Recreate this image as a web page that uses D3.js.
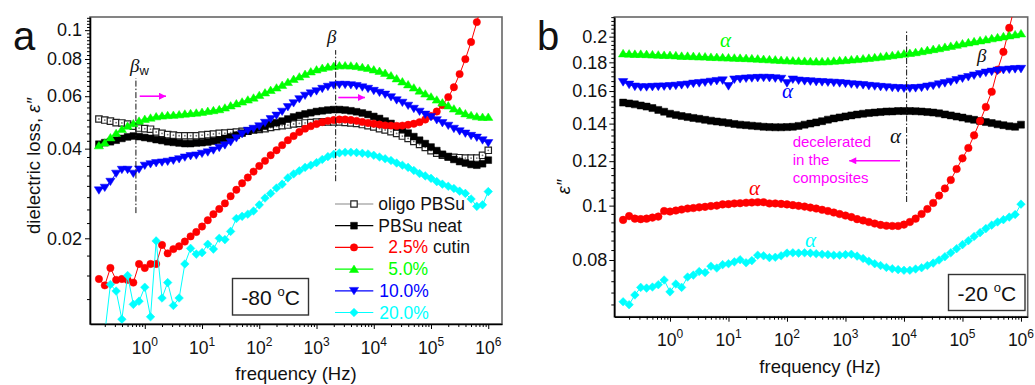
<!DOCTYPE html>
<html>
<head>
<meta charset="utf-8">
<script src="https://cdn.jsdelivr.net/npm/d3@7"></script>
<style>
  body { margin: 0; background: #fff; }
  svg { font-family: "Liberation Sans", Arial, sans-serif; }
</style>
</head>
<body>
<svg id="chart" width="1035" height="385"></svg>
<script>
// frequency sweep (Hz), shared by all curves
const freq = [0.158, 0.2, 0.251, 0.316, 0.398, 0.501, 0.631, 0.794,
  1, 1.26, 1.58, 2, 2.51, 3.16, 3.98, 5.01, 6.31, 7.94,
  10, 12.6, 15.8, 20, 25.1, 31.6, 39.8, 50.1, 63.1, 79.4,
  100, 126, 158, 200, 251, 316, 398, 501, 631, 794,
  1e3, 1.26e3, 1.58e3, 2e3, 2.51e3, 3.16e3, 3.98e3, 5.01e3, 6.31e3, 7.94e3,
  1e4, 1.26e4, 1.58e4, 2e4, 2.51e4, 3.16e4, 3.98e4, 5.01e4, 6.31e4, 7.94e4,
  1e5, 1.26e5, 1.58e5, 2e5, 2.51e5, 3.16e5, 3.98e5, 5.01e5, 6.31e5, 7.94e5, 1e6];

const xTicks = [1, 10, 100, 1e3, 1e4, 1e5, 1e6];
const leftTicks = [0.02, 0.04, 0.06, 0.08, 0.1];
const rightTicks = [0.08, 0.1, 0.12, 0.14, 0.16, 0.18, 0.2];

// panel a, -80 C
const aOligo = [0.0503,0.0499,0.0495,0.0489,0.0488,0.0484,0.0476,0.0469,0.0467,0.0465,
  0.0455,0.0450,0.0446,0.0444,0.0442,0.0442,0.0442,0.0442,0.0444,0.0446,
  0.0448,0.0450,0.0451,0.0453,0.0455,0.0457,0.0458,0.0462,0.0464,0.0467,
  0.0471,0.0475,0.0478,0.0480,0.0484,0.0486,0.0488,0.0489,0.0491,0.0492,
  0.0492,0.0492,0.0492,0.0490,0.0488,0.0486,0.0482,0.0478,0.0473,0.0467,
  0.0462,0.0456,0.0450,0.0441,0.0433,0.0423,0.0413,0.0404,0.0394,0.0386,
  0.0380,0.0376,0.0374,0.0373,0.0372,0.0372,0.0372,0.0380,0.0395];
const aNeat = [0.0414,0.0419,0.0422,0.0427,0.0433,0.0438,0.0441,0.0439,0.0436,0.0433,
  0.0429,0.0426,0.0422,0.0420,0.0418,0.0416,0.0416,0.0418,0.0419,0.0421,
  0.0424,0.0427,0.0433,0.0438,0.0444,0.0451,0.0458,0.0464,0.0469,0.0476,
  0.0484,0.0489,0.0495,0.0503,0.0511,0.0517,0.0523,0.0528,0.0533,0.0536,
  0.0539,0.0541,0.0541,0.0539,0.0536,0.0532,0.0527,0.0521,0.0513,0.0505,
  0.0495,0.0486,0.0474,0.0464,0.0451,0.0439,0.0427,0.0416,0.0405,0.0394,
  0.0383,0.0375,0.0368,0.0362,0.0358,0.0354,0.0352,0.0356,0.0366];
const aCutin25 = [0.0146,0.0139,0.0159,0.0145,0.0146,0.0145,0.0142,0.0164,0.0159,0.0164,
  0.0164,0.0190,0.0178,0.0184,0.0188,0.0195,0.0203,0.0210,0.0219,0.0230,
  0.0241,0.0251,0.0262,0.0277,0.0291,0.0306,0.0320,0.0335,0.0350,0.0364,
  0.0380,0.0395,0.0411,0.0427,0.0441,0.0455,0.0467,0.0476,0.0484,0.0491,
  0.0496,0.0499,0.0501,0.0501,0.0499,0.0496,0.0492,0.0488,0.0485,0.0482,
  0.0479,0.0478,0.0477,0.0478,0.0481,0.0485,0.0491,0.0501,0.0515,0.0533,
  0.0560,0.0596,0.0643,0.0712,0.0799,0.0912,0.1064,0.125,0.148];
const aCutin50 = [0.0410,0.0419,0.0436,0.0451,0.0465,0.0477,0.0486,0.0496,0.0503,0.0508,
  0.0513,0.0516,0.0518,0.0519,0.0521,0.0524,0.0526,0.0528,0.0531,0.0535,
  0.0538,0.0542,0.0549,0.0558,0.0567,0.0575,0.0584,0.0593,0.0605,0.0617,
  0.0629,0.0641,0.0654,0.0669,0.0685,0.0698,0.0712,0.0726,0.0737,0.0746,
  0.0753,0.0758,0.0761,0.0761,0.0760,0.0757,0.0751,0.0746,0.0737,0.0729,
  0.0718,0.0704,0.0688,0.0672,0.0657,0.0641,0.0626,0.0612,0.0598,0.0584,
  0.0571,0.0558,0.0545,0.0535,0.0525,0.0518,0.0513,0.0511,0.0511];
const aCutin100 = [0.0290,0.0296,0.0310,0.0330,0.0340,0.0340,0.0330,0.0341,0.0351,0.0355,
  0.0358,0.0360,0.0362,0.0365,0.0369,0.0374,0.0378,0.0380,0.0385,0.0389,
  0.0395,0.0403,0.0411,0.0421,0.0434,0.0448,0.0460,0.0467,0.0476,0.0489,
  0.0503,0.0517,0.0533,0.0552,0.0569,0.0587,0.0603,0.0614,0.0624,0.0636,
  0.0646,0.0653,0.0656,0.0656,0.0654,0.0650,0.0643,0.0636,0.0626,0.0617,
  0.0608,0.0596,0.0582,0.0571,0.0558,0.0545,0.0533,0.0521,0.0511,0.0499,
  0.0488,0.0478,0.0467,0.0458,0.0450,0.0442,0.0436,0.0427,0.0418];
const aCutin200 = [0.0091,0.0096,0.0140,0.0133,0.0107,0.0150,0.0120,0.0123,0.0137,0.0109,
  0.0196,0.0126,0.0142,0.0119,0.0126,0.0164,0.0185,0.0177,0.0179,0.0191,
  0.0184,0.0200,0.0198,0.0211,0.0233,0.0237,0.0241,0.0247,0.0259,0.0273,
  0.0283,0.0295,0.0304,0.0319,0.0329,0.0337,0.0346,0.0352,0.0359,0.0368,
  0.0376,0.0383,0.0387,0.0389,0.0389,0.0388,0.0386,0.0384,0.0380,0.0375,
  0.0370,0.0365,0.0358,0.0352,0.0346,0.0338,0.0330,0.0324,0.0318,0.0310,
  0.0304,0.0299,0.0294,0.0288,0.0283,0.0271,0.0256,0.0259,0.0287];

// panel b, -20 C
const bNeat = [0.1526,0.1521,0.1515,0.1508,0.1501,0.1492,0.1481,0.1470,0.1458,0.1451,
  0.1444,0.1438,0.1433,0.1428,0.1422,0.1417,0.1412,0.1408,0.1403,0.1398,
  0.1394,0.1391,0.1388,0.1385,0.1382,0.1380,0.1379,0.1379,0.1380,0.1382,
  0.1387,0.1394,0.1400,0.1407,0.1414,0.1423,0.1430,0.1436,0.1442,0.1448,
  0.1453,0.1458,0.1462,0.1465,0.1468,0.1471,0.1472,0.1474,0.1474,0.1474,
  0.1473,0.1471,0.1468,0.1465,0.1460,0.1454,0.1448,0.1441,0.1435,0.1428,
  0.1422,0.1415,0.1409,0.1403,0.1396,0.1391,0.1385,0.1382,0.1394];
const bCutin25 = [0.0943,0.0958,0.0948,0.0946,0.0948,0.0952,0.0956,0.0978,0.0976,0.0980,
  0.0984,0.0988,0.0990,0.0993,0.0995,0.0998,0.1000,0.1005,0.1006,0.1009,
  0.1010,0.1012,0.1013,0.1014,0.1014,0.1009,0.1009,0.1007,0.1005,0.1002,
  0.0999,0.0996,0.0992,0.0988,0.0983,0.0978,0.0972,0.0966,0.0960,0.0954,
  0.0946,0.0941,0.0935,0.0929,0.0924,0.0921,0.0920,0.0920,0.0925,0.0935,
  0.0948,0.0966,0.0986,0.1011,0.1042,0.1073,0.1111,0.1162,0.1214,0.1267,
  0.1334,0.1415,0.1499,0.1595,0.1746,0.1879,0.2073,0.2279,0.2523];
const bCutin50 = [0.1867,0.1865,0.1863,0.1863,0.1861,0.1859,0.1857,0.1855,0.1854,0.1852,
  0.1848,0.1848,0.1846,0.1844,0.1843,0.1840,0.1839,0.1837,0.1836,0.1834,
  0.1833,0.1831,0.1829,0.1827,0.1824,0.1822,0.1820,0.1817,0.1815,0.1813,
  0.1811,0.1810,0.1808,0.1807,0.1807,0.1808,0.1811,0.1814,0.1817,0.1821,
  0.1824,0.1828,0.1833,0.1837,0.1842,0.1848,0.1853,0.1859,0.1865,0.1870,
  0.1876,0.1884,0.1892,0.1900,0.1907,0.1917,0.1925,0.1934,0.1944,0.1953,
  0.1961,0.1969,0.1977,0.1986,0.1994,0.2002,0.2010,0.2018,0.2026];
const bCutin100 = [0.1660,0.1643,0.1630,0.1626,0.1626,0.1628,0.1630,0.1631,0.1633,0.1636,
  0.1640,0.1644,0.1650,0.1653,0.1658,0.1663,0.1668,0.1672,0.1633,0.1678,
  0.1681,0.1685,0.1687,0.1689,0.1690,0.1689,0.1686,0.1683,0.1653,0.1678,
  0.1671,0.1667,0.1665,0.1662,0.1660,0.1658,0.1656,0.1653,0.1650,0.1646,
  0.1643,0.1640,0.1635,0.1632,0.1628,0.1625,0.1622,0.1620,0.1618,0.1618,
  0.1620,0.1623,0.1630,0.1636,0.1645,0.1653,0.1663,0.1674,0.1685,0.1695,
  0.1706,0.1716,0.1726,0.1733,0.1740,0.1745,0.1748,0.1751,0.1753];
const bCutin200 = [0.0674,0.0666,0.0693,0.0715,0.0713,0.0716,0.0723,0.0737,0.0702,0.0725,
  0.0715,0.0746,0.0752,0.0763,0.0760,0.0780,0.0774,0.0785,0.0788,0.0794,
  0.0801,0.0791,0.0798,0.0816,0.0814,0.0808,0.0809,0.0814,0.0823,0.0824,
  0.0823,0.0824,0.0823,0.0821,0.0819,0.0818,0.0816,0.0816,0.0818,0.0819,
  0.0813,0.0805,0.0796,0.0788,0.0782,0.0776,0.0772,0.0769,0.0767,0.0767,
  0.0771,0.0775,0.0782,0.0790,0.0800,0.0811,0.0824,0.0838,0.0852,0.0866,
  0.0881,0.0895,0.0910,0.0923,0.0935,0.0944,0.0954,0.0964,0.1006];

const legendNames = ['oligo PBSu', 'PBSu neat', '2.5%', '5.0%', '10.0%', '20.0%'];

const GREEN = '#00ff00', BLUE = '#0000ff', RED = '#ff0000', CYAN = '#00ffff', MAG = '#ff00ff';

// marker shapes, size = half width
const shapes = {
  square:  { draw(c, r) { c.rect(-r, -r, 2 * r, 2 * r); } },
  circle:  { draw(c, r) { c.moveTo(r, 0); c.arc(0, 0, r, 0, 2 * Math.PI); } },
  up:      { draw(c, r) { c.moveTo(0, -r); c.lineTo(r * 1.15, r * 0.85); c.lineTo(-r * 1.15, r * 0.85); c.closePath(); } },
  down:    { draw(c, r) { c.moveTo(0, r); c.lineTo(r * 1.15, -r * 0.85); c.lineTo(-r * 1.15, -r * 0.85); c.closePath(); } },
  diamond: { draw(c, r) { c.moveTo(0, -r); c.lineTo(r, 0); c.lineTo(0, r); c.lineTo(-r, 0); c.closePath(); } }
};

const svg = d3.select('#chart');

svg.append('defs').append('marker')
  .attr('id', 'ah').attr('viewBox', '0 0 10 10').attr('refX', 10).attr('refY', 5)
  .attr('markerUnits', 'userSpaceOnUse').attr('markerWidth', 10).attr('markerHeight', 7)
  .attr('orient', 'auto')
  .append('path').attr('d', 'M0,0L10,5L0,10z').attr('fill', MAG);

function panel(cfg) {
  const g = svg.append('g');
  const x = d3.scaleLog().domain(cfg.xd).range([cfg.x0, cfg.x1]);
  const y = d3.scaleLog().domain(cfg.yd).range([cfg.y1, cfg.y0]);

  svg.select('defs').append('clipPath').attr('id', 'clip' + cfg.id)
    .append('rect').attr('x', cfg.x0).attr('y', cfg.y0)
    .attr('width', cfg.x1 - cfg.x0).attr('height', cfg.y1 - cfg.y0);

  g.append('rect').attr('x', cfg.x0).attr('y', cfg.y0)
    .attr('width', cfg.x1 - cfg.x0).attr('height', cfg.y1 - cfg.y0)
    .attr('fill', 'none').attr('stroke', '#666').attr('stroke-width', 1.6);

  const plot = g.append('g').attr('clip-path', `url(#clip${cfg.id})`);
  const line = d3.line().x(d => x(d[0])).y(d => y(d[1]));

  cfg.series.forEach(s => {
    const pts = freq.map((f, i) => [f, s.values[i]]);
    plot.append('path').datum(pts)
      .attr('fill', 'none').attr('stroke', s.line).attr('stroke-width', 1)
      .attr('d', line);
    plot.append('g').selectAll('path').data(pts).join('path')
      .attr('transform', d => `translate(${x(d[0])},${y(d[1])})`)
      .attr('d', d3.symbol(shapes[s.shape], s.r))
      .attr('fill', s.fill).attr('stroke', s.stroke).attr('stroke-width', s.sw);
    if (s.dot) {
      plot.append('g').selectAll('circle').data(pts).join('circle')
        .attr('cx', d => x(d[0])).attr('cy', d => y(d[1])).attr('r', 0.9).attr('fill', '#777');
    }
  });

  // y axis
  const yMinor = d3.range(cfg.minorStart, cfg.yd[1], cfg.minorStep)
    .filter(v => v > cfg.yd[0] && !cfg.yTicks.some(t => Math.abs(t - v) < 1e-6));
  g.append('g').attr('transform', `translate(${cfg.x0},0)`)
    .call(d3.axisLeft(y).tickValues(yMinor).tickSize(3).tickFormat(''))
    .call(a => a.select('.domain').remove());
  const ya = g.append('g').attr('transform', `translate(${cfg.x0},0)`)
    .call(d3.axisLeft(y).tickValues(cfg.yTicks).tickSize(5).tickSizeOuter(0)
      .tickPadding(cfg.pad).tickFormat(d => String(d)));
  ya.attr('font-family', null).attr('font-size', 18);
  ya.selectAll('text').attr('fill', '#111');
  ya.select('.domain').attr('stroke-width', 1.6);

  // x axis
  const xMinor = [];
  for (let e = -1; e <= 6; e++) for (let k = 2; k <= 9; k++) {
    const v = k * Math.pow(10, e);
    if (v > cfg.xd[0] && v < cfg.xd[1]) xMinor.push(v);
  }
  g.append('g').attr('transform', `translate(0,${cfg.y1})`)
    .call(d3.axisBottom(x).tickValues(xMinor).tickSize(3).tickFormat(''))
    .call(a => a.select('.domain').remove());
  const xa = g.append('g').attr('transform', `translate(0,${cfg.y1})`)
    .call(d3.axisBottom(x).tickValues(xTicks).tickSize(5).tickSizeOuter(0).tickFormat(''));
  xa.select('.domain').attr('stroke-width', 1.6);

  const lab = g.append('g').selectAll('text').data(xTicks).join('text')
    .attr('x', d => x(d)).attr('y', cfg.y1 + 29.5)
    .attr('text-anchor', 'middle').attr('font-size', 17.5).attr('fill', '#111');
  lab.append('tspan').text('10');
  lab.append('tspan').attr('font-size', 12).attr('dy', -8)
    .text(d => Math.round(Math.log10(d)));

  // axis titles
  g.append('text').attr('x', cfg.xLabel[0]).attr('y', cfg.xLabel[1])
    .attr('text-anchor', 'middle').attr('font-size', 18.5).attr('fill', '#111')
    .text('frequency (Hz)');

  // temperature box
  g.append('rect').attr('x', cfg.box[0]).attr('y', cfg.box[1])
    .attr('width', cfg.box[2]).attr('height', cfg.box[3])
    .attr('fill', '#fff').attr('stroke', '#333').attr('stroke-width', 1.4);
  const tt = g.append('text').attr('x', cfg.box[0] + cfg.box[2] / 2).attr('y', cfg.box[1] + cfg.box[3] / 2 + 8)
    .attr('text-anchor', 'middle').attr('font-size', 21).attr('fill', '#111');
  tt.append('tspan').text(cfg.temp + ' ');
  tt.append('tspan').attr('font-size', 13).attr('dy', -9).text('o');
  tt.append('tspan').attr('dy', 9).text('C');

  // panel letter
  g.append('text').attr('x', cfg.letter[0]).attr('y', cfg.letter[1])
    .attr('font-size', 40).attr('fill', '#111').text(cfg.id);

  return { g, x, y };
}

const A = panel({
  id: 'a', x0: 90, x1: 502, y0: 17, y1: 324,
  xd: [Math.pow(10, -0.957), Math.pow(10, 6.24)], yd: [0.01031, 0.1107],
  yTicks: leftTicks, minorStart: 0.0125, minorStep: 0.0025, pad: 3,
  xLabel: [296, 380], box: [232.5, 278.5, 76, 36.5], temp: '-80', letter: [13, 50],
  series: [
    { values: aOligo, shape: 'square', r: 3.2, fill: '#fff', stroke: '#222', sw: 1.2, line: '#888', dot: true },
    { values: aNeat, shape: 'square', r: 3.4, fill: '#000', stroke: '#000', sw: 0.5, line: '#000' },
    { values: aCutin25, shape: 'circle', r: 3.7, fill: RED, stroke: RED, sw: 0.5, line: RED },
    { values: aCutin50, shape: 'up', r: 4, fill: GREEN, stroke: GREEN, sw: 0.5, line: GREEN },
    { values: aCutin100, shape: 'down', r: 4, fill: BLUE, stroke: BLUE, sw: 0.5, line: BLUE },
    { values: aCutin200, shape: 'diamond', r: 4.3, fill: CYAN, stroke: CYAN, sw: 0.5, line: CYAN }
  ]
});

const B = panel({
  id: 'b', x0: 614.3, x1: 1027.7, y0: 17, y1: 316.7,
  xd: [Math.pow(10, -0.952), Math.pow(10, 6.115)], yd: [0.0634, 0.2168],
  yTicks: rightTicks, minorStart: 0.02 / 6 * 20, minorStep: 0.02 / 6, pad: 2,
  xLabel: [820, 372.5], box: [948.5, 274.5, 76.5, 36], temp: '-20', letter: [537, 50],
  series: [
    { values: bNeat, shape: 'square', r: 3.5, fill: '#000', stroke: '#000', sw: 0.5, line: '#000' },
    { values: bCutin25, shape: 'circle', r: 3.8, fill: RED, stroke: RED, sw: 0.5, line: RED },
    { values: bCutin50, shape: 'up', r: 4.1, fill: GREEN, stroke: GREEN, sw: 0.5, line: GREEN },
    { values: bCutin100, shape: 'down', r: 4.1, fill: BLUE, stroke: BLUE, sw: 0.5, line: BLUE },
    { values: bCutin200, shape: 'diamond', r: 4.3, fill: CYAN, stroke: CYAN, sw: 0.5, line: CYAN }
  ]
});

// y axis titles
const yt = A.g.append('text').attr('transform', 'translate(40,166) rotate(-90)')
  .attr('text-anchor', 'middle').attr('font-size', 18.5).attr('fill', '#111');
yt.append('tspan').text('dielectric loss, ');
yt.append('tspan').attr('font-style', 'italic').text('\u03b5\u2033');
B.g.append('text').attr('transform', 'translate(570,187) rotate(-90)')
  .attr('text-anchor', 'middle').attr('font-size', 18.5).attr('font-style', 'italic')
  .attr('fill', '#111').text('\u03b5\u2033');

// legend (panel a)
const legColors = ['#888', '#000', RED, GREEN, BLUE, CYAN];
const legShapes = [['square', 3.2, '#fff', '#222', 1.2], ['square', 3.4, '#000', '#000', 0.5],
  ['circle', 3.7, RED, RED, 0.5], ['up', 4, GREEN, GREEN, 0.5],
  ['down', 4, BLUE, BLUE, 0.5], ['diamond', 4.3, CYAN, CYAN, 0.5]];
const legTextX = [378.3, 378.3, 388.3, 388.3, 379.3, 379.3];
legendNames.forEach((name, i) => {
  const cy = 204 + i * 21.7;
  A.g.append('line').attr('x1', 335).attr('x2', 373.3).attr('y1', cy).attr('y2', cy)
    .attr('stroke', legColors[i]).attr('stroke-width', 1.2);
  const sh = legShapes[i];
  A.g.append('path').attr('transform', `translate(354,${cy})`)
    .attr('d', d3.symbol(shapes[sh[0]], sh[1])).attr('fill', sh[2]).attr('stroke', sh[3]).attr('stroke-width', sh[4]);
  const t = A.g.append('text').attr('x', legTextX[i]).attr('y', cy + 6).attr('font-size', 17.5)
    .attr('fill', i < 2 ? '#111' : legColors[i]).text(name);
  if (i === 2) t.append('tspan').attr('fill', '#111').text(' cutin');
});

// dash-dot guide lines
const guides = [
  { p: A, f: 0.70, v: [0.0243, 0.0690] },
  { p: A, f: 2160, v: [0.0311, 0.0857] },
  { p: B, f: 1.11e4, v: [0.1015, 0.2047] }
];
guides.forEach(d => {
  d.p.g.append('line').attr('x1', d.p.x(d.f)).attr('x2', d.p.x(d.f))
    .attr('y1', d.p.y(d.v[0])).attr('y2', d.p.y(d.v[1]))
    .attr('stroke', '#111').attr('stroke-width', 1).attr('stroke-dasharray', '6,2,1.5,2');
});

// magenta arrows
const arrows = [
  { p: A, f: [0.815, 2.35], v: 0.0600 },
  { p: A, f: [2400, 7020], v: 0.0594 },
  { p: B, f: [8550, 1160], v: 0.1202 }
];
arrows.forEach(d => {
  d.p.g.append('line').attr('x1', d.p.x(d.f[0])).attr('x2', d.p.x(d.f[1]))
    .attr('y1', d.p.y(d.v)).attr('y2', d.p.y(d.v))
    .attr('stroke', MAG).attr('stroke-width', 1.6).attr('marker-end', 'url(#ah)');
});

// greek labels
function greek(g, txt, x, y, color, size, sub) {
  const t = g.append('text').attr('x', x).attr('y', y).attr('fill', color)
    .attr('font-family', '"Liberation Serif", "DejaVu Serif", serif')
    .attr('font-style', 'italic').attr('font-size', size).text(txt);
  if (sub) t.append('tspan').attr('font-family', '"Liberation Sans", Arial, sans-serif')
    .attr('font-style', 'normal').attr('font-size', 13).attr('dy', 3).text(sub);
}
greek(A.g, '\u03b2', 130, 72, '#111', 19, 'w');
greek(A.g, '\u03b2', 327, 43, '#111', 19);
greek(B.g, '\u03b1', 720, 47, GREEN, 21);
greek(B.g, '\u03b1', 782, 98, BLUE, 21);
greek(B.g, '\u03b2', 977, 62, '#111', 19);
greek(B.g, '\u03b1', 890, 143, '#111', 21);
greek(B.g, '\u03b1', 749, 195, RED, 21);
greek(B.g, '\u03b1', 805, 247, CYAN, 21);

// note in panel b
['decelerated', 'in the', 'composites'].forEach((s, i) => {
  B.g.append('text').attr('x', 792.7).attr('y', 147 + i * 18).attr('font-size', 15)
    .attr('fill', MAG).text(s);
});
</script>
</body>
</html>
